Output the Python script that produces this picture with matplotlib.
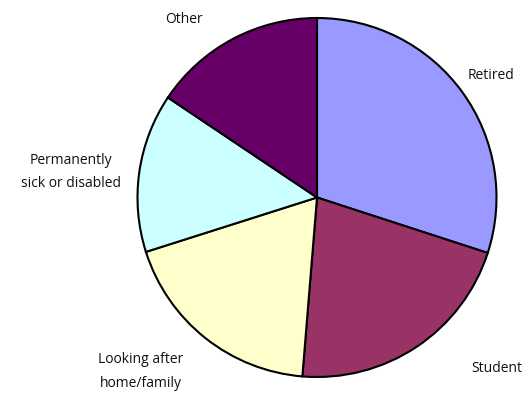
import matplotlib
matplotlib.use("Agg")
import matplotlib.pyplot as plt

# share of each group (clockwise from 12 o'clock)
categories = ["Retired", "Student", "Looking after\nhome/family",
              "Permanently\nsick or disabled", "Other"]
values = [30.0, 21.3, 18.8, 14.3, 15.6]
colors = ["#9999FF", "#993366", "#FFFFCC", "#CCFFFF", "#660066"]

# where each label sits, in pie units (radius = 1)
label_pos = [(0.97, 0.68), (1.0, -0.955), (-0.98, -0.97), (-1.37, 0.14), (-0.74, 0.99)]

plt.rcParams['font.family'] = ['Open Sans', 'DejaVu Sans']

fig = plt.figure(figsize=(5.28, 3.94), dpi=100)
cx, cy, r = 317, 197.5, 179.5
ax = fig.add_axes([(cx - r) / 528, (394 - cy - r) / 394, 2 * r / 528, 2 * r / 394])

wedges, texts = ax.pie(values, labels=categories, colors=colors, startangle=90,
                       counterclock=False, radius=1,
                       wedgeprops=dict(edgecolor="black", linewidth=1.5),
                       textprops=dict(fontsize=10, color="#111111"))
for t, p in zip(texts, label_pos):
    t.set_position(p)
    t.set_ha("center")
    t.set_va("center")
    t.set_linespacing(1.75)
    t.set_clip_on(False)

ax.set_xlim(-1, 1)
ax.set_ylim(-1, 1)
ax.set_aspect("equal")
ax.axis("off")

fig.savefig("out.png", dpi=100)
